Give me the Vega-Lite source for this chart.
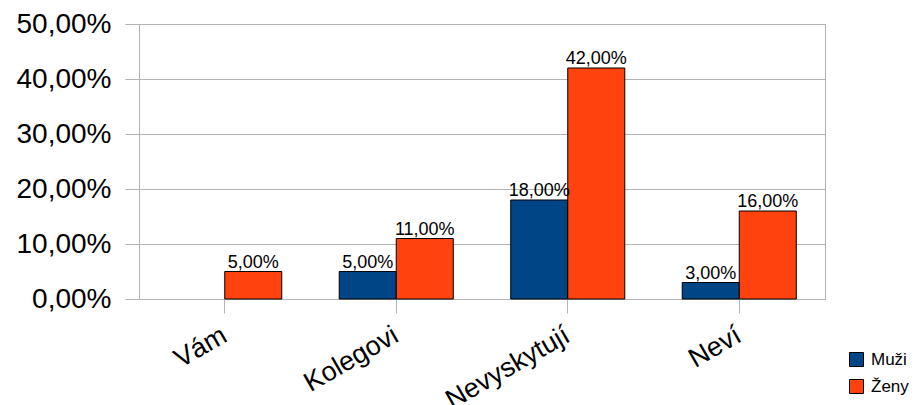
{
  "$schema": "https://vega.github.io/schema/vega-lite/v6.json",
  "autosize": "none",
  "width": 686,
  "height": 275,
  "padding": {"left": 139, "top": 24, "right": 95, "bottom": 106},
  "background": "white",
  "config": {
    "locale": {"number": {"decimal": ",", "thousands": " ", "grouping": [3], "currency": ["", " Kč"]}},
    "font": "Liberation Sans",
    "view": {"stroke": "#b3b3b3", "strokeWidth": 1}
  },
  "data": {
    "values": [
      {"kategorie": "Vám", "pohlavi": "Ženy", "podil": 0.05},
      {"kategorie": "Kolegovi", "pohlavi": "Muži", "podil": 0.05},
      {"kategorie": "Kolegovi", "pohlavi": "Ženy", "podil": 0.11},
      {"kategorie": "Nevyskytují", "pohlavi": "Muži", "podil": 0.18},
      {"kategorie": "Nevyskytují", "pohlavi": "Ženy", "podil": 0.42},
      {"kategorie": "Neví", "pohlavi": "Muži", "podil": 0.03},
      {"kategorie": "Neví", "pohlavi": "Ženy", "podil": 0.16}
    ]
  },
  "encoding": {
    "x": {
      "field": "kategorie",
      "type": "nominal",
      "sort": ["Vám", "Kolegovi", "Nevyskytují", "Neví"],
      "scale": {"paddingInner": 0.335, "paddingOuter": 0.1675},
      "axis": {
        "title": null,
        "labelAngle": -30,
        "labelAlign": "right",
        "labelBaseline": "middle",
        "labelFontSize": 27,
        "labelColor": "black",
        "labelPadding": 20,
        "labelOverlap": false,
        "tickColor": "#b3b3b3",
        "tickSize": 14,
        "domainColor": "#b3b3b3",
        "grid": false
      }
    },
    "xOffset": {"field": "pohlavi", "type": "nominal", "scale": {"domain": ["Muži", "Ženy"]}},
    "y": {
      "field": "podil",
      "type": "quantitative",
      "scale": {"domain": [0, 0.5], "nice": false},
      "axis": {
        "title": null,
        "format": ".2%",
        "values": [0, 0.1, 0.2, 0.3, 0.4, 0.5],
        "labelFontSize": 28,
        "labelColor": "black",
        "labelPadding": 14,
        "tickColor": "#b3b3b3",
        "tickSize": 14,
        "domainColor": "#b3b3b3",
        "gridColor": "#b3b3b3",
        "labelFlush": false
      }
    }
  },
  "layer": [
    {
      "mark": {"type": "bar", "stroke": "black", "strokeWidth": 1},
      "encoding": {
        "color": {
          "field": "pohlavi",
          "type": "nominal",
          "scale": {"domain": ["Muži", "Ženy"], "range": ["#004586", "#ff420e"]},
          "legend": {
            "title": null,
            "orient": "none",
            "legendX": 709,
            "legendY": 327,
            "symbolType": "square",
            "symbolSize": 196,
            "symbolStrokeColor": "black",
            "symbolStrokeWidth": 1,
            "labelFontSize": 17,
            "labelColor": "black",
            "rowPadding": 8,
            "labelOffset": 6
          }
        }
      }
    },
    {
      "mark": {"type": "text", "baseline": "bottom", "fontSize": 18, "dy": 0, "color": "black"},
      "encoding": {
        "text": {"field": "podil", "type": "quantitative", "format": ".2%"}
      }
    }
  ]
}
